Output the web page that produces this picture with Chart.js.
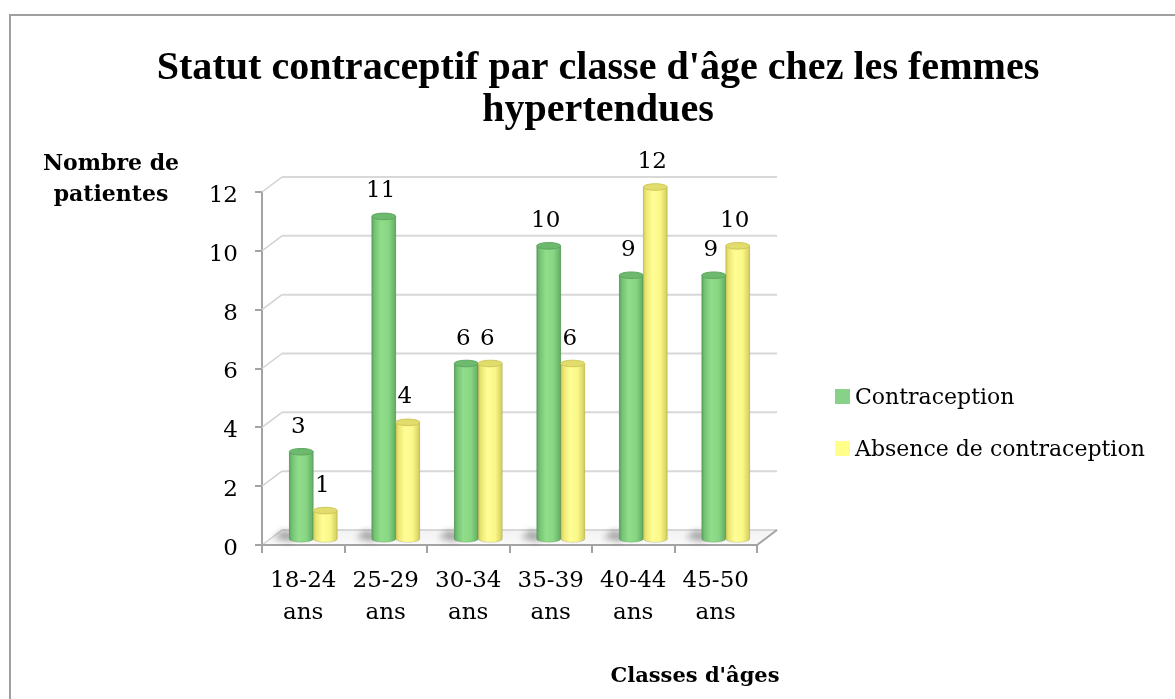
<!DOCTYPE html>
<html><head><meta charset="utf-8">
<script src="https://cdn.jsdelivr.net/npm/chart.js@4.4.0/dist/chart.umd.min.js"></script>
<style>html,body{margin:0;padding:0;background:#fff;overflow:hidden}#wrap{width:1175px;height:699px;position:relative}</style>
</head><body><div id="wrap"><canvas id="c" width="1175" height="699"></canvas></div>
<script>
// ---- data ----
const categories = [['18-24','ans'],['25-29','ans'],['30-34','ans'],['35-39','ans'],['40-44','ans'],['45-50','ans']];
const contraception = [3, 11, 6, 10, 9, 9];
const absence = [1, 4, 6, 6, 12, 10];
const seriesNames = ['Contraception', 'Absence de contraception'];
const yTicks = [0, 2, 4, 6, 8, 10, 12];
const titleLines = ["Statut contraceptif par classe d'âge chez les femmes", "hypertendues"];
const yTitleLines = ['Nombre de', 'patientes'];
const xTitle = "Classes d'âges";

// ---- style ----
const SERIF = '"DejaVu Serif", "Liberation Serif", serif';
const TITLE_SERIF = '"Liberation Serif", "DejaVu Serif", serif';
const legendColors = ['#88d188', '#ffff8a'];
const bodyStops = [
  [[0,'#5aa45a'],[0.12,'#74c274'],[0.38,'#90de8a'],[0.7,'#88d684'],[0.92,'#6cb86c'],[1,'#5ea85e']],
  [[0,'#cfc955'],[0.12,'#ece772'],[0.38,'#fffd96'],[0.7,'#fbf888'],[0.92,'#ddd86a'],[1,'#cfc958']]
];
const capColors = ['#6db96d', '#e2dc6c'];
const capRim = ['#5fa85f', '#cfc95a'];
const DXW = 20, DYW = -15;   // back wall offset
const DXB = 10, DYB = -5;    // bar depth offset
const AXIS = '#a3a3a3';

function cylinder(ctx, cx, top, base, w, k){
  const rx = w/2, ry = 3.3, l = cx - rx, r = cx + rx;
  const g = ctx.createLinearGradient(l, 0, r, 0);
  bodyStops[k].forEach(([o,c]) => g.addColorStop(o, c));
  ctx.beginPath();
  ctx.moveTo(l, top);
  ctx.lineTo(l, base);
  ctx.ellipse(cx, base, rx, ry, 0, Math.PI, 0, true);
  ctx.lineTo(r, top);
  ctx.closePath();
  ctx.fillStyle = g; ctx.fill();
  ctx.strokeStyle = 'rgba(0,0,0,0.12)'; ctx.lineWidth = 1; ctx.stroke();
  ctx.beginPath();
  ctx.ellipse(cx, top, rx, ry, 0, 0, Math.PI*2);
  ctx.fillStyle = capColors[k]; ctx.fill();
  ctx.strokeStyle = capRim[k]; ctx.lineWidth = 1; ctx.stroke();
}

const threeD = {
  id: 'threeD',
  beforeDraw(chart){
    const ctx = chart.ctx;
    ctx.save();
    ctx.fillStyle = '#fff'; ctx.fillRect(0, 0, chart.width, chart.height);
    ctx.strokeStyle = '#a0a0a0'; ctx.lineWidth = 2;
    ctx.beginPath(); ctx.moveTo(10, 702); ctx.lineTo(10, 15); ctx.lineTo(1178, 15); ctx.stroke();
    // main title, fitted to the reference width
    ctx.fillStyle = '#000'; ctx.textAlign = 'center'; ctx.textBaseline = 'alphabetic';
    ctx.font = 'bold 100px ' + TITLE_SERIF;
    const tw = ctx.measureText(titleLines[0]).width;
    const ts = Math.min(42, 100 * 884 / tw);
    ctx.font = 'bold ' + ts.toFixed(1) + 'px ' + TITLE_SERIF;
    ctx.fillText(titleLines[0], 598, 79);
    ctx.fillText(titleLines[1], 598, 121);
    // axis titles
    ctx.font = 'bold 22px ' + SERIF;
    ctx.fillText(yTitleLines[0], 111, 170);
    ctx.fillText(yTitleLines[1], 111, 201);
    ctx.font = 'bold 21px ' + SERIF;
    ctx.fillText(xTitle, 695, 682);
    // legend
    ctx.textAlign = 'left'; ctx.textBaseline = 'alphabetic';
    ctx.font = '22px ' + SERIF;
    const ly = [389, 441];
    seriesNames.forEach((n, i) => {
      ctx.fillStyle = legendColors[i]; ctx.fillRect(835, ly[i], 15, 15);
      ctx.fillStyle = '#000'; ctx.fillText(n, 855, ly[i] + 15);
    });
    ctx.restore();
  },
  beforeDatasetsDraw(chart){
    const {ctx, chartArea: a, scales: {y}} = chart;
    const y0 = y.getPixelForValue(0);
    ctx.save();
    // floor
    ctx.beginPath();
    ctx.moveTo(a.left, y0); ctx.lineTo(a.right, y0);
    ctx.lineTo(a.right + DXW, y0 + DYW); ctx.lineTo(a.left + DXW, y0 + DYW); ctx.closePath();
    const fg = ctx.createLinearGradient(0, y0 + DYW, 0, y0);
    fg.addColorStop(0, '#f2f2f2'); fg.addColorStop(1, '#fafafa');
    ctx.fillStyle = fg; ctx.fill();
    // back wall grid + side diagonals
    yTicks.forEach(v => {
      const py = y.getPixelForValue(v);
      ctx.strokeStyle = '#d8d8d8'; ctx.lineWidth = 2;
      ctx.beginPath(); ctx.moveTo(a.left + DXW, py + DYW); ctx.lineTo(a.right + DXW, py + DYW); ctx.stroke();
      ctx.strokeStyle = '#d2d2d2'; ctx.lineWidth = 1.5;
      ctx.beginPath(); ctx.moveTo(a.left, py); ctx.lineTo(a.left + DXW, py + DYW); ctx.stroke();
    });
    // floor front and right edges
    ctx.strokeStyle = AXIS; ctx.lineWidth = 2;
    ctx.beginPath(); ctx.moveTo(a.left, y0); ctx.lineTo(a.right, y0); ctx.lineTo(a.right + DXW, y0 + DYW); ctx.stroke();
    // soft shadows cast on floor, to the left of each pair
    ctx.filter = 'blur(3px)';
    ctx.fillStyle = 'rgba(0,0,0,0.32)';
    chart.getDatasetMeta(0).data.forEach(el => {
      const l = el.x - el.width/2 + DXB, b = el.base + DYB;
      ctx.beginPath();
      ctx.moveTo(l + 2, b + 3); ctx.lineTo(l - 16, b - 1); ctx.lineTo(l - 6, b - 9); ctx.lineTo(l + 6, b - 5); ctx.closePath();
      ctx.fill();
    });
    ctx.filter = 'none';
    ctx.restore();
    ctx.save();
    ctx.translate(DXB, DYB);
  },
  afterDatasetsDraw(chart){
    const ctx = chart.ctx;
    ctx.restore();
    ctx.save();
    ctx.translate(DXB, DYB);
    [0, 1].forEach(i => {
      chart.getDatasetMeta(i).data.forEach(el => {
        cylinder(ctx, el.x, el.y, el.base, el.width, i);
      });
    });
    ctx.fillStyle = '#000'; ctx.textAlign = 'center'; ctx.textBaseline = 'alphabetic';
    ctx.font = '23px ' + SERIF;
    [0, 1].forEach(i => {
      const vals = chart.data.datasets[i].data;
      chart.getDatasetMeta(i).data.forEach((el, j) => {
        ctx.fillText(String(vals[j]), el.x - 3, el.y - 19);
      });
    });
    ctx.restore();
  }
};

new Chart(document.getElementById('c'), {
  type: 'bar',
  data: {
    labels: categories,
    datasets: [
      {label: seriesNames[0], data: contraception, backgroundColor: legendColors[0], borderWidth: 0},
      {label: seriesNames[1], data: absence, backgroundColor: legendColors[1], borderWidth: 0}
    ]
  },
  options: {
    responsive: false, animation: false, devicePixelRatio: 1,
    layout: {padding: {left: 210, right: 418, top: 192, bottom: 54}},
    datasets: {bar: {categoryPercentage: 48/82.5, barPercentage: 1}},
    plugins: {legend: {display: false}, title: {display: false}, tooltip: {enabled: false}},
    scales: {
      x: {
        afterFit: s => { s.height = 100; },
        border: {display: true, color: AXIS, width: 2},
        grid: {display: true, drawOnChartArea: false, drawTicks: true, tickLength: 8, color: AXIS, lineWidth: 2, offset: true},
        ticks: {color: '#000', font: {family: SERIF, size: 23, lineHeight: 1.39}, padding: 12, maxRotation: 0, autoSkip: false}
      },
      y: {
        min: 0, max: 12,
        afterFit: s => { s.width = 52; },
        afterBuildTicks: s => { s.ticks = yTicks.map(v => ({value: v})); },
        border: {display: true, color: AXIS, width: 2},
        grid: {display: true, drawOnChartArea: false, drawTicks: true, tickLength: 7, color: AXIS, lineWidth: 2},
        ticks: {color: '#000', font: {family: SERIF, size: 23}, padding: 17, labelOffset: 4}
      }
    }
  },
  plugins: [threeD]
});
</script>
</body></html>
